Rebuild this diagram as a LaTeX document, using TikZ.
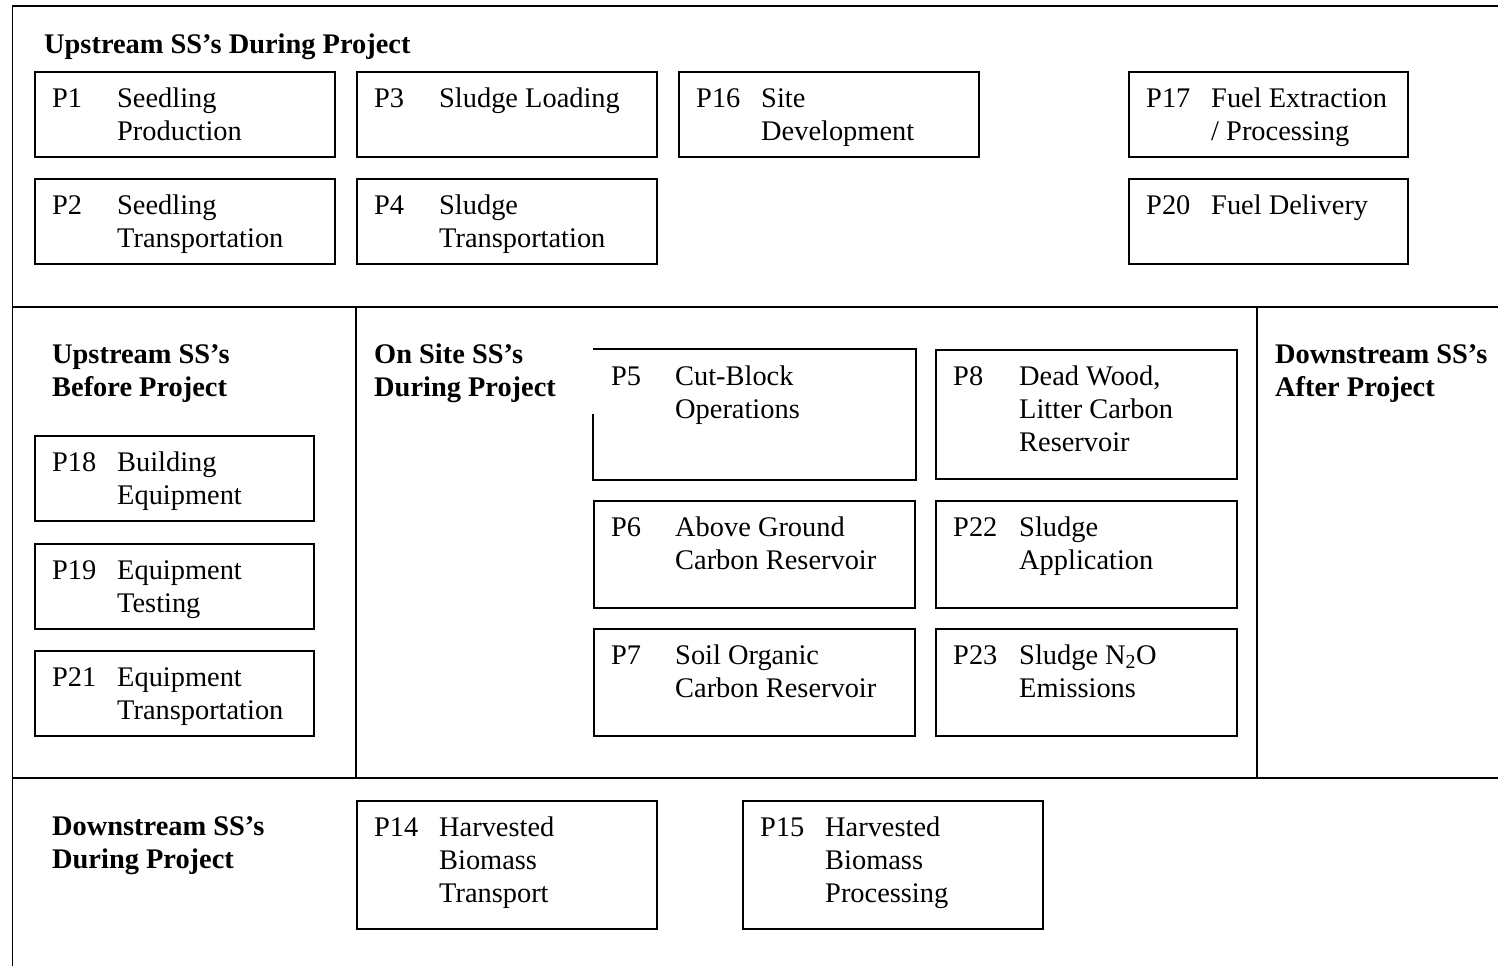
\documentclass[tikz,border=0pt]{standalone}
\usepackage{fontspec}
\setmainfont{Liberation Serif}
\usetikzlibrary{calc}
\newcommand{\ptext}[1]{\begin{tabular}[t]{@{}l@{}}#1\end{tabular}}
\tikzset{
  pbox/.style={draw=black, line width=1.8pt, anchor=north west, inner sep=0pt},   % process box
  ptag/.style={anchor=base west, inner sep=0pt, font=\fontsize{28.4}{33}\selectfont},
  pdesc/.style={ptag},
  head/.style={anchor=base west, inner sep=0pt, font=\fontsize{28.4}{33}\selectfont\bfseries},
  frame/.style={draw=black, line width=1.8pt},
}
\begin{document}
\begin{tikzpicture}[x=1pt, y=-1pt]
  \useasboundingbox (0,0) rectangle (1498,966);
  % section frame
  \draw[frame] (1498,6) -- (12.5,6) -- (12.5,966);
  \draw[frame] (12.5,307) -- (1498,307);
  \draw[frame] (12.5,778) -- (1498,778);
  \draw[frame] (356,307) -- (356,778);
  \draw[frame] (1257,307) -- (1257,778);
  % headings
  \node[head] (hup)     at (44,53)    {Upstream SS’s During Project};
  \node[head] (hbefore) at (52,363)   {\ptext{Upstream SS’s\\Before Project}};
  \node[head] (honsite) at (374,363)  {\ptext{On Site SS’s\\During Project}};
  \node[head] (hafter)  at (1275,363) {\ptext{Downstream SS’s\\After Project}};
  \node[head] (hdown)   at (52,835)   {\ptext{Downstream SS’s\\During Project}};
  % upstream during project
  \node[pbox, minimum width=300, minimum height=85]  (p1)  at (34,71)   {};
  \node[pbox, minimum width=300, minimum height=85]  (p2)  at (34,178)  {};
  \node[pbox, minimum width=300, minimum height=85]  (p3)  at (356,71)  {};
  \node[pbox, minimum width=300, minimum height=85]  (p4)  at (356,178) {};
  \node[pbox, minimum width=300, minimum height=85]  (p16) at (678,71)  {};
  \node[pbox, minimum width=279, minimum height=85]  (p17) at (1128,71) {};
  \node[pbox, minimum width=279, minimum height=85]  (p20) at (1128,178){};
  % upstream before project
  \node[pbox, minimum width=279, minimum height=85]  (p18) at (34,435)  {};
  \node[pbox, minimum width=279, minimum height=85]  (p19) at (34,543)  {};
  \node[pbox, minimum width=279, minimum height=85]  (p21) at (34,650)  {};
  % on site
  \node[pbox, draw=none, minimum width=321, minimum height=129] (p5) at (593,349) {};
  \draw[frame] ([yshift=-65pt]p5.north west) -- (p5.south west) -- (p5.south east)
    -- (p5.north east) -- (p5.north west);
  \node[pbox, minimum width=301, minimum height=129] (p8)  at (935,349) {};
  \node[pbox, minimum width=321, minimum height=107] (p6)  at (593,500) {};
  \node[pbox, minimum width=301, minimum height=107] (p22) at (935,500) {};
  \node[pbox, minimum width=321, minimum height=107] (p7)  at (593,628) {};
  \node[pbox, minimum width=301, minimum height=107] (p23) at (935,628) {};
  % downstream during project
  \node[pbox, minimum width=300, minimum height=128] (p14) at (356,800) {};
  \node[pbox, minimum width=300, minimum height=128] (p15) at (742,800) {};
  % box numbers
  \foreach \b/\t in {p1/P1,p2/P2,p3/P3,p4/P4,p16/P16,p17/P17,p20/P20,p18/P18,p19/P19,
                     p21/P21,p5/P5,p8/P8,p6/P6,p22/P22,p7/P7,p23/P23,p14/P14,p15/P15}
    \node[ptag] (\b-tag) at ([shift={(18,36)}]\b.north west) {\t};
  % box texts
  \node[pdesc] (p1-txt)  at ([shift={(83,36)}]p1.north west)  {\ptext{Seedling\\Production}};
  \node[pdesc] (p2-txt)  at ([shift={(83,36)}]p2.north west)  {\ptext{Seedling\\Transportation}};
  \node[pdesc] (p3-txt)  at ([shift={(83,36)}]p3.north west)  {Sludge Loading};
  \node[pdesc] (p4-txt)  at ([shift={(83,36)}]p4.north west)  {\ptext{Sludge\\Transportation}};
  \node[pdesc] (p16-txt) at ([shift={(83,36)}]p16.north west) {\ptext{Site\\Development}};
  \node[pdesc] (p17-txt) at ([shift={(83,36)}]p17.north west) {\ptext{Fuel Extraction\\/ Processing}};
  \node[pdesc] (p20-txt) at ([shift={(83,36)}]p20.north west) {Fuel Delivery};
  \node[pdesc] (p18-txt) at ([shift={(83,36)}]p18.north west) {\ptext{Building\\Equipment}};
  \node[pdesc] (p19-txt) at ([shift={(83,36)}]p19.north west) {\ptext{Equipment\\Testing}};
  \node[pdesc] (p21-txt) at ([shift={(83,36)}]p21.north west) {\ptext{Equipment\\Transportation}};
  \node[pdesc] (p5-txt)  at ([shift={(82,36)}]p5.north west)  {\ptext{Cut-Block\\Operations}};
  \node[pdesc] (p8-txt)  at ([shift={(84,36)}]p8.north west)  {\ptext{Dead Wood,\\Litter Carbon\\Reservoir}};
  \node[pdesc] (p6-txt)  at ([shift={(82,36)}]p6.north west)  {\ptext{Above Ground\\Carbon Reservoir}};
  \node[pdesc] (p22-txt) at ([shift={(84,36)}]p22.north west) {\ptext{Sludge\\Application}};
  \node[pdesc] (p7-txt)  at ([shift={(82,36)}]p7.north west)  {\ptext{Soil Organic\\Carbon Reservoir}};
  \node[pdesc] (p23-txt) at ([shift={(84,36)}]p23.north west) {\ptext{Sludge N\textsubscript{2}O\\Emissions}};
  \node[pdesc] (p14-txt) at ([shift={(83,36)}]p14.north west) {\ptext{Harvested\\Biomass\\Transport}};
  \node[pdesc] (p15-txt) at ([shift={(83,36)}]p15.north west) {\ptext{Harvested\\Biomass\\Processing}};
\end{tikzpicture}
\end{document}
